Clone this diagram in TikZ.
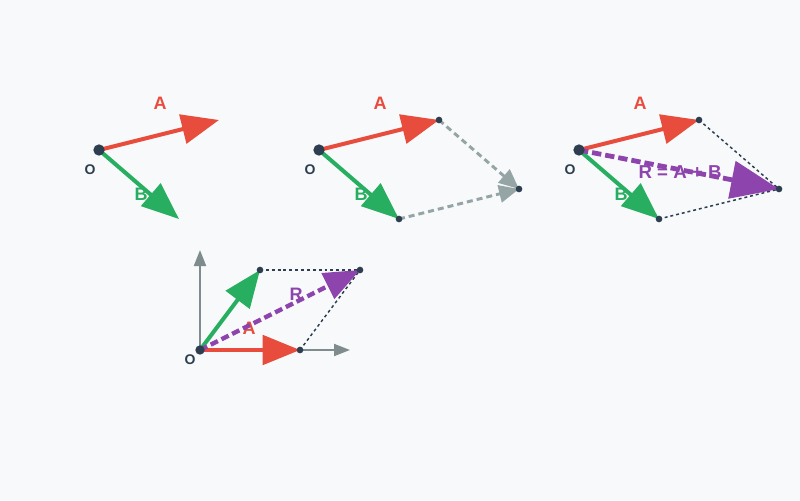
\documentclass[tikz,border=0pt]{standalone}
\usepackage{fontspec}
\setmainfont{Liberation Sans}
\usetikzlibrary{arrows.meta}
\definecolor{bg}{HTML}{F8F9FA}
\definecolor{vred}{HTML}{E74C3C}
\definecolor{vgreen}{HTML}{27AE60}
\definecolor{vpurple}{HTML}{8E44AD}
\definecolor{vdark}{HTML}{2C3E50}
\definecolor{vgrey}{HTML}{95A5A6}
\definecolor{vaxis}{HTML}{7F8C8D}
\begin{document}
\begin{tikzpicture}[x=0.75pt,y=-0.75pt,
  vec/.style={line width=3pt,-{Triangle[length=28pt,width=22pt]}},
  bigvec/.style={line width=3.6pt,-{Triangle[length=36pt,width=28pt]},dash pattern=on 7pt off 3pt},
  rvec/.style={line width=3.2pt,-{Triangle[length=27pt,width=21pt]},dash pattern=on 6pt off 3pt},
  helper/.style={vgrey,line width=2.2pt,dash pattern=on 4.5pt off 3pt,-{Triangle[length=15pt,width=13pt]}},
  para/.style={vdark,line width=1.1pt,dash pattern=on 2.2pt off 2.2pt},
  axis/.style={vaxis,line width=1.5pt,-{Triangle[length=12pt,width=9pt]}},
  lbl/.style={font=\bfseries\fontsize{13.5}{15}\selectfont},
  olbl/.style={font=\bfseries\fontsize{10.5}{12}\selectfont,text=vdark},
  bigdot/.style={circle,fill=vdark,inner sep=0pt,minimum size=8.5pt},
  dot/.style={circle,fill=vdark,inner sep=0pt,minimum size=5pt}]
\fill[bg] (0,0) rectangle (800,500);
\useasboundingbox (0,0) rectangle (800,500);

% ---------- panel 1 ----------
\coordinate (o1) at (99,150);
\coordinate (a1) at (219,120);
\coordinate (b1) at (179,219);
\node[lbl,text=vred] (la1) at (160,103) {A};
\node[lbl,text=vgreen] (lb1) at (141,194) {B};
\node[olbl] (lo1) at (90,170) {O};
\draw[vec,vred] (o1) -- (a1);
\draw[vec,vgreen] (o1) -- (b1);
\node[bigdot] (d1) at (o1) {};

% ---------- panel 2 ----------
\coordinate (o2) at (319,150);
\coordinate (a2) at (439,120);
\coordinate (b2) at (399,219);
\coordinate (s2) at (519,189);
\node[lbl,text=vred] (la2) at (380,103) {A};
\node[lbl,text=vgreen] (lb2) at (361,194) {B};
\node[olbl] (lo2) at (310,170) {O};
\draw[helper] (a2) -- (s2);
\draw[helper] (b2) -- (s2);
\draw[vec,vred] (o2) -- (a2);
\draw[vec,vgreen] (o2) -- (b2);
\node[bigdot] (d2) at (o2) {};
\node[dot] (da2) at (a2) {};
\node[dot] (db2) at (b2) {};
\node[dot] (ds2) at (s2) {};

% ---------- panel 3 ----------
\coordinate (o3) at (579,150);
\coordinate (a3) at (699,120);
\coordinate (b3) at (659,219);
\coordinate (s3) at (779,189);
\node[lbl,text=vred] (la3) at (640,103) {A};
\node[lbl,text=vgreen] (lb3) at (621,194) {B};
\node[olbl] (lo3) at (570,170) {O};
\draw[para] (a3) -- (s3);
\draw[para] (b3) -- (s3);
\draw[vec,vred] (o3) -- (a3);
\draw[vec,vgreen] (o3) -- (b3);
\draw[bigvec,vpurple] (o3) -- (s3);
\node[lbl,text=vpurple,font=\bfseries\fontsize{14}{16}\selectfont] (lr3) at (680,172) {R = A + B};
\node[bigdot] (d3) at (o3) {};
\node[dot] (da3) at (a3) {};
\node[dot] (db3) at (b3) {};
\node[dot] (ds3) at (s3) {};

% ---------- panel 4 ----------
\coordinate (o4) at (200,350);
\coordinate (xa) at (350,350);
\coordinate (ya) at (200,250);
\coordinate (a4) at (300,350);
\coordinate (b4) at (260,270);
\coordinate (s4) at (360,270);
\draw[axis] (o4) -- (xa);
\draw[axis] (o4) -- (ya);
\draw[para] (b4) -- (s4);
\draw[para] (a4) -- (s4);
\node[lbl,text=vred] (la4) at (249,328) {A};
\node[lbl,text=vpurple] (lr4) at (296,294) {R};
\node[olbl] (lo4) at (190,360) {O};
\draw[vec,vred] (o4) -- (a4);
\draw[vec,vgreen] (o4) -- (b4);
\draw[rvec,vpurple] (o4) -- (s4);
\node[dot,minimum size=7pt] (d4) at (o4) {};
\node[dot] (da4) at (a4) {};
\node[dot] (db4) at (b4) {};
\node[dot] (ds4) at (s4) {};
\end{tikzpicture}
\end{document}
